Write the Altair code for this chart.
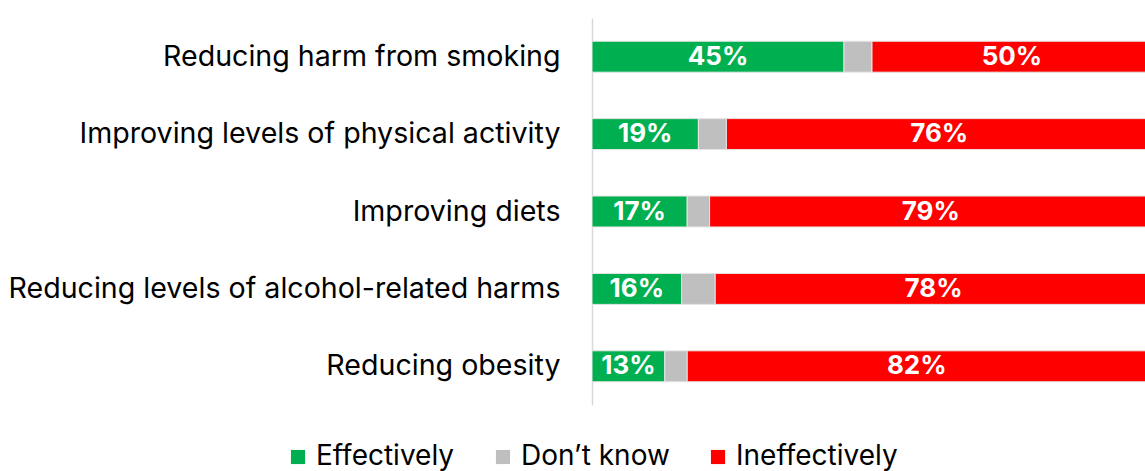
import altair as alt
import pandas as pd

categories = [
    "Reducing harm from smoking",
    "Improving levels of physical activity",
    "Improving diets",
    "Reducing levels of alcohol-related harms",
    "Reducing obesity",
]
effectively = [45, 19, 17, 16, 13]
dont_know = [5, 5, 4, 6, 4]
ineffectively = [50, 76, 79, 78, 82]

series = ["Effectively", "Don\u2019t know", "Ineffectively"]
colors = ["#00B050", "#BFBFBF", "#FF0000"]

rows = []
for i, c in enumerate(categories):
    for j, (s, vals) in enumerate(zip(series, [effectively, dont_know, ineffectively])):
        rows.append({"category": c, "series": s, "value": vals[i], "order": j,
                     "label": f"{vals[i]}%" if s != "Don\u2019t know" else ""})
df = pd.DataFrame(rows)

FONT = "Inter"

base = alt.Chart(df).transform_stack(
    stack="value", groupby=["category"], as_=["x0", "x1"],
    sort=[alt.SortField("order", order="ascending")]
).transform_calculate(mid="(datum.x0 + datum.x1) / 2")

y_enc = alt.Y("category:N", sort=categories,
              scale=alt.Scale(paddingInner=0.6, paddingOuter=0.3),
              axis=alt.Axis(title=None, ticks=False, domain=True, domainColor="#D9D9D9",
                            domainWidth=1.5, labelFontSize=28.6, labelFont=FONT,
                            labelColor="#000000", labelPadding=32, labelLimit=700))

x_scale = alt.Scale(domain=[0, 98.75], nice=False)

bars = base.mark_bar(stroke="#E6E6E6", strokeWidth=1, clip=True).encode(
    y=y_enc,
    x=alt.X("x0:Q", scale=x_scale, axis=None),
    x2="x1:Q",
    color=alt.Color("series:N", sort=series,
                    scale=alt.Scale(domain=series, range=colors),
                    legend=alt.Legend(title=None, orient="none", direction="horizontal",
                                      legendX=-308, legendY=425, symbolType="square",
                                      symbolSize=200, symbolStrokeWidth=0,
                                      labelFontSize=28, labelFont=FONT, labelColor="#000000",
                                      labelLimit=400,
                                      columnPadding=34, symbolOffset=0, labelOffset=4)),
)

texts = base.mark_text(color="white", fontSize=26, fontWeight="bold", font=FONT).encode(
    y=alt.Y("category:N", sort=categories),
    x=alt.X("mid:Q", scale=x_scale),
    text="label:N",
)

chart = (bars + texts).properties(
    width=553, height=387,
    padding={"left": 592, "top": 18, "right": 0, "bottom": 66},
    autosize=alt.AutoSizeParams(type="none"),
).configure_view(stroke=None)

chart.save("out.html", embed_options={"renderer": "svg", "actions": False})
